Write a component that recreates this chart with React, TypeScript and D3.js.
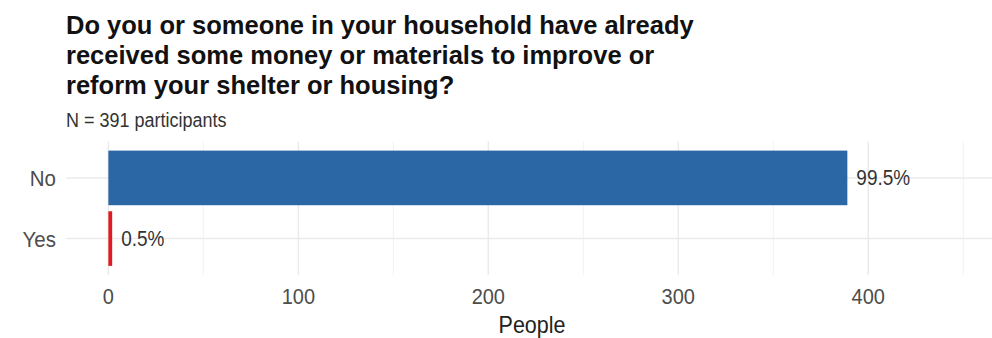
import React from "react";
import * as d3 from "d3";

const titleLines = [
  "Do you or someone in your household have already",
  "received some money or materials to improve or",
  "reform your shelter or housing?",
];
const subtitle = "N = 391 participants";
const categories = ["No", "Yes"];
const counts = [389, 2];
const percentLabels = ["99.5%", "0.5%"];
const barColors = ["#2c67a5", "#e01a22"];
const xTicks = [0, 100, 200, 300, 400];
const xMinorTicks = [50, 150, 250, 350, 450];
const xLimit = 446;
const xTitle = "People";

function SText(props: {
  x: number;
  y: number;
  sy?: number;
  children: React.ReactNode;
  [k: string]: any;
}) {
  const { x, y, sy = 1, children, ...rest } = props;
  return (
    <text transform={`translate(${x},${y}) scale(1,${sy})`} {...rest}>
      {children}
    </text>
  );
}

export default function App() {
  const W = 992;
  const H = 338;
  const panel = { left: 66, right: 998, top: 141.5, bottom: 275 };
  const expand = xLimit * 0.05;
  const x = d3
    .scaleLinear()
    .domain([-expand, xLimit + expand])
    .range([panel.left, panel.right]);
  // ggplot style: discrete expand 0.6 units; band width 0.9
  const step = (panel.bottom - panel.top) / 2.2;
  const center = (i: number) => panel.top + step * (0.6 + i);
  const barH = step * 0.9;
  const font = "'Liberation Sans', Arial, sans-serif";
  const sy = 1.12;

  return (
    <svg
      width={W}
      height={H}
      style={{ position: "absolute", left: 0, top: 0, background: "#fff" }}
      fontFamily={font}
    >
      {xMinorTicks.map((t) => (
        <line
          key={"m" + t}
          x1={x(t)}
          x2={x(t)}
          y1={panel.top}
          y2={panel.bottom}
          stroke="#f2f2f2"
          strokeWidth={1}
        />
      ))}
      {xTicks.map((t) => (
        <line
          key={"M" + t}
          x1={x(t)}
          x2={x(t)}
          y1={panel.top}
          y2={panel.bottom}
          stroke="#ebebeb"
          strokeWidth={1.5}
        />
      ))}
      {categories.map((c, i) => (
        <line
          key={"h" + c}
          x1={panel.left}
          x2={panel.right}
          y1={center(i)}
          y2={center(i)}
          stroke="#ebebeb"
          strokeWidth={1.5}
        />
      ))}
      {categories.map((c, i) => (
        <rect
          key={"b" + c}
          x={x(0)}
          y={center(i) - barH / 2}
          width={x(counts[i]) - x(0)}
          height={barH}
          fill={barColors[i]}
        />
      ))}
      {categories.map((c, i) => (
        <SText
          key={"v" + c}
          x={x(counts[i]) + 9}
          y={center(i) + 7.5}
          sy={sy}
          fontSize={19}
          fill="#333333"
        >
          {percentLabels[i]}
        </SText>
      ))}
      {categories.map((c, i) => (
        <SText
          key={"y" + c}
          x={56}
          y={center(i) + 8}
          sy={sy}
          textAnchor="end"
          fontSize={20.5}
          fill="#4d4d4d"
        >
          {c}
        </SText>
      ))}
      {xTicks.map((t) => (
        <SText
          key={"t" + t}
          x={x(t)}
          y={304}
          sy={sy}
          textAnchor="middle"
          fontSize={20}
          fill="#4d4d4d"
        >
          {t}
        </SText>
      ))}
      <SText
        x={(panel.left + panel.right) / 2}
        y={333}
        sy={sy}
        textAnchor="middle"
        fontSize={21.5}
        fill="#222"
      >
        {xTitle}
      </SText>
      {titleLines.map((l, i) => (
        <text
          key={"ti" + i}
          x={66}
          y={34 + i * 30}
          fontSize={25.5}
          fontWeight="bold"
          fill="#111"
        >
          {l}
        </text>
      ))}
      <SText x={66} y={127} sy={sy} fontSize={18} fill="#333">
        {subtitle}
      </SText>
    </svg>
  );
}
